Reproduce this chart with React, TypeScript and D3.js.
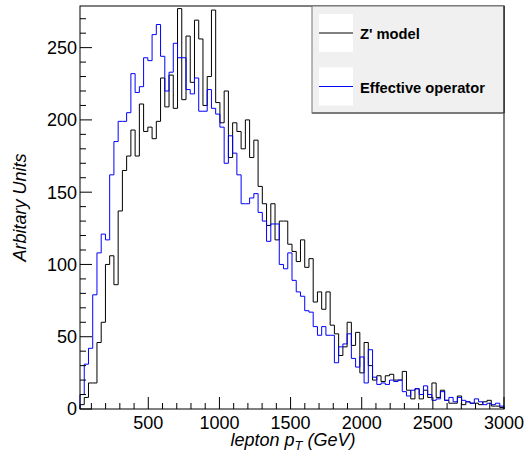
import React from "react";
import * as d3 from "d3";

// Histogram: 100 bins from 20 to 3000 GeV
const binLow = 20;
const binHigh = 3000;

const zprimeModel = [
  3, 8, 18, 18, 46, 60, 100, 106, 86, 137,
  165, 175, 193, 175, 211, 192, 195, 187, 199, 229,
  209, 231, 208, 277, 214, 258, 226, 269, 256, 210,
  230, 276, 212, 198, 220, 174, 198, 192, 180, 200,
  174, 186, 154, 142, 127, 142, 117, 130, 130, 114,
  109, 102, 117, 98, 104, 74, 81, 69, 81, 58,
  52, 37, 43, 60, 44, 53, 25, 46, 30, 20,
  23, 19, 23, 24, 20, 20, 26, 13, 7, 14,
  7, 13, 8, 18, 8, 13, 6, 4, 4, 9,
  3, 5, 4, 4, 3, 5, 6, 2, 2, 1,
];

const effectiveOperator = [
  10, 31, 42, 79, 108, 121, 117, 162, 185, 199,
  199, 205, 232, 219, 223, 243, 241, 259, 266, 244,
  220, 233, 253, 243, 243, 221, 218, 229, 206, 206,
  221, 208, 204, 195, 170, 189, 177, 162, 142, 142,
  146, 149, 136, 130, 116, 128, 128, 100, 97, 108,
  89, 81, 78, 68, 67, 57, 51, 57, 51, 51,
  32, 43, 45, 52, 35, 29, 36, 18, 41, 22,
  17, 18, 17, 20, 19, 20, 12, 9, 13, 14,
  10, 16, 10, 6, 7, 12, 6, 8, 5, 8,
  6, 5, 4, 7, 5, 3, 4, 3, 4, 2,
];

const xTickMajor = [500, 1000, 1500, 2000, 2500, 3000];
const yTickMajor = [0, 50, 100, 150, 200, 250];
const seriesNames = ["Z' model", "Effective operator"];
const seriesColors = ["#000000", "#0000ff"];

const W = 532;
const H = 453;
const frame = { left: 80, right: 504, top: 6, bottom: 409 };
const FONT = "'Liberation Sans', Arial, Helvetica, sans-serif";

export default function App() {
  const x = d3.scaleLinear().domain([binLow, binHigh]).range([frame.left, frame.right]);
  const y = d3.scaleLinear().domain([0, 278.8]).range([frame.bottom, frame.top]);
  const nb = zprimeModel.length;
  const bw = (binHigh - binLow) / nb;

  const stepPts = (vals: number[]) => {
    const pts: [number, number][] = [[binLow, 0]];
    vals.forEach((v, i) => {
      pts.push([binLow + i * bw, v]);
      pts.push([binLow + (i + 1) * bw, v]);
    });
    pts.push([binHigh, 0]);
    return pts;
  };
  const line = d3
    .line<[number, number]>()
    .x((d) => x(d[0]))
    .y((d) => y(d[1]));

  const xMinor = d3.range(100, 3001, 100).filter((v) => v % 500 !== 0);
  const yMinor = d3.range(0, 271, 10).filter((v) => v % 50 !== 0);

  const legend = { x0: 312, y0: 6, x1: 504, y1: 113 };
  const rowsY = [33, 86.5];

  return (
    <svg width={W} height={H} style={{ position: "absolute", left: 0, top: 0 }}>
      <rect x={0} y={0} width={W} height={H} fill="#ffffff" />
      {/* histograms */}
      <path d={line(stepPts(zprimeModel)) || ""} fill="none" stroke={seriesColors[0]} strokeWidth={1} />
      <path d={line(stepPts(effectiveOperator)) || ""} fill="none" stroke={seriesColors[1]} strokeWidth={1} />

      {/* frame */}
      <rect
        x={frame.left}
        y={frame.top}
        width={frame.right - frame.left}
        height={frame.bottom - frame.top}
        fill="none"
        stroke="#000"
        strokeWidth={1}
      />

      {/* x ticks */}
      {xTickMajor.map((t) => (
        <line key={"xM" + t} x1={x(t)} x2={x(t)} y1={frame.bottom} y2={frame.bottom - 12} stroke="#000" />
      ))}
      {xMinor.map((t) => (
        <line key={"xm" + t} x1={x(t)} x2={x(t)} y1={frame.bottom} y2={frame.bottom - 6} stroke="#000" />
      ))}
      {xTickMajor.map((t) => (
        <text key={"xl" + t} x={x(t)} y={429} textAnchor="middle" fontFamily={FONT} fontSize={18} fill="#000">
          {t}
        </text>
      ))}

      {/* y ticks */}
      {yTickMajor.map((t) => (
        <line key={"yM" + t} x1={frame.left} x2={frame.left + 12} y1={y(t)} y2={y(t)} stroke="#000" />
      ))}
      {yMinor.map((t) => (
        <line key={"ym" + t} x1={frame.left} x2={frame.left + 6} y1={y(t)} y2={y(t)} stroke="#000" />
      ))}
      {yTickMajor.map((t) => (
        <text
          key={"yl" + t}
          x={77}
          y={y(t)}
          dy="0.36em"
          textAnchor="end"
          fontFamily={FONT}
          fontSize={18}
          fill="#000"
        >
          {t}
        </text>
      ))}

      {/* axis titles */}
      <text x={293} y={446} textAnchor="middle" fontFamily={FONT} fontSize={18} fontStyle="italic" fill="#000">
        lepton p
        <tspan dy={4} fontSize={13}>T</tspan>
        <tspan dy={-4}> (GeV)</tspan>
      </text>
      <text
        transform={`translate(26, ${(frame.top + frame.bottom) / 2}) rotate(-90)`}
        textAnchor="middle"
        fontFamily={FONT}
        fontSize={18}
        fontStyle="italic"
        fill="#000"
      >
        Arbitary Units
      </text>

      {/* legend */}
      <rect
        x={legend.x0}
        y={legend.y0}
        width={legend.x1 - legend.x0}
        height={legend.y1 - legend.y0}
        fill="#f0f0f0"
        stroke="#777"
        strokeWidth={1}
      />
      <line x1={legend.x0} x2={legend.x1} y1={legend.y1} y2={legend.y1} stroke="#666" strokeWidth={1.5} />
      <line x1={legend.x1} x2={legend.x1} y1={legend.y0} y2={legend.y1} stroke="#000" strokeWidth={1} />
      {seriesNames.map((name, i) => (
        <g key={name}>
          <rect x={319} y={rowsY[i] - 19} width={34} height={38} fill="#ffffff" />
          <line x1={319} x2={353} y1={rowsY[i]} y2={rowsY[i]} stroke={seriesColors[i]} strokeWidth={1} />
          <text x={360} y={rowsY[i] + 6} fontFamily={FONT} fontSize={14.7} fontWeight="bold" fill="#000">
            {name}
          </text>
        </g>
      ))}
    </svg>
  );
}
